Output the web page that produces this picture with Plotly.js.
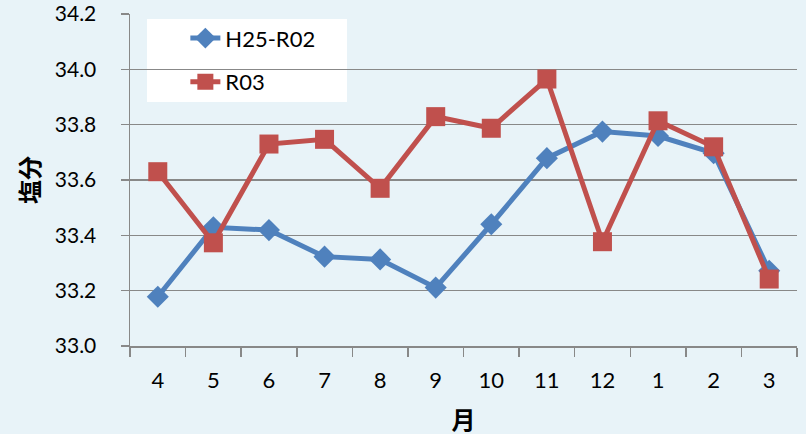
<!DOCTYPE html>
<html><head><meta charset="utf-8">
<script src="https://cdn.plot.ly/plotly-3.0.1.min.js"></script>
<style>html,body{margin:0;padding:0;background:#e8f3f8;}#chart{width:806px;height:434px;}</style>
</head><body><div id="chart"></div>
<script>
const months = ['4','5','6','7','8','9','10','11','12','1','2','3'];
const h25r02 = [33.178, 33.429, 33.419, 33.323, 33.313, 33.211, 33.440, 33.679, 33.775, 33.759, 33.697, 33.272];
const r03 = [33.630, 33.373, 33.730, 33.747, 33.570, 33.829, 33.787, 33.965, 33.377, 33.814, 33.720, 33.242];
const yTicks = [33.0, 33.2, 33.4, 33.6, 33.8, 34.0, 34.2];

const font = 'Lato, "Noto Sans CJK JP", sans-serif';
const data = [
  {x: months, y: h25r02, name: 'H25-R02', type: 'scatter', mode: 'lines+markers', legendgroup: 'a',
   line: {color: '#4f81bd', width: 5}, marker: {symbol: 'diamond', size: 17, color: '#4f81bd'}},
  {x: months, y: r03, name: 'R03', type: 'scatter', mode: 'lines+markers', legendgroup: 'b',
   line: {color: '#c0504d', width: 5}, marker: {symbol: 'square', size: 19, color: '#c0504d'}}
];
const layout = {
  width: 806, height: 434,
  paper_bgcolor: '#e8f3f8', plot_bgcolor: '#e8f3f8',
  margin: {l: 130, r: 9, t: 14, b: 88, autoexpand: false},
  font: {family: font, size: 21, color: '#000'},
  showlegend: true,
  legend: {x: 0.083, y: 0.99, xanchor: 'left', yanchor: 'top', bgcolor: 'rgba(0,0,0,0)',
    font: {family: font, size: 22, color: '#000'}, traceorder: 'grouped', tracegroupgap: 12,
    borderwidth: 0},
  shapes: [{type: 'rect', xref: 'paper', yref: 'paper', layer: 'between',
    x0: (147 - 130) / 667, x1: (347 - 130) / 667, y0: (346 - 102) / 332, y1: (346 - 19) / 332,
    fillcolor: '#ffffff', line: {width: 0}}],
  xaxis: {type: 'category', range: [-0.5, 11.5], tickson: 'boundaries', ticks: 'outside', ticklen: 9,
    tickcolor: '#888', tickwidth: 1.5, showline: true, linecolor: '#888', linewidth: 1.5,
    showgrid: false, zeroline: false, ticklabelstandoff: 14,
    tickfont: {family: font, size: 22},
    title: {text: '月', font: {family: font, size: 24, weight: 'bold'}, standoff: 20}},
  yaxis: {range: [33.0, 34.2], tickvals: yTicks, ticktext: yTicks.map(v => v.toFixed(1)),
    ticks: 'outside', ticklen: 8, tickcolor: '#888', tickwidth: 1.5,
    showline: true, linecolor: '#888', linewidth: 1.5, ticklabeloverflow: 'allow',
    showgrid: true, gridcolor: '#888', gridwidth: 1.5, zeroline: false,
    ticklabelstandoff: 20, tickfont: {family: font, size: 21},
    title: {text: '塩分', font: {family: font, size: 24, weight: 'bold'}, standoff: 8}}
};
Plotly.newPlot('chart', data, layout, {displayModeBar: false, staticPlot: true});
</script></body></html>
